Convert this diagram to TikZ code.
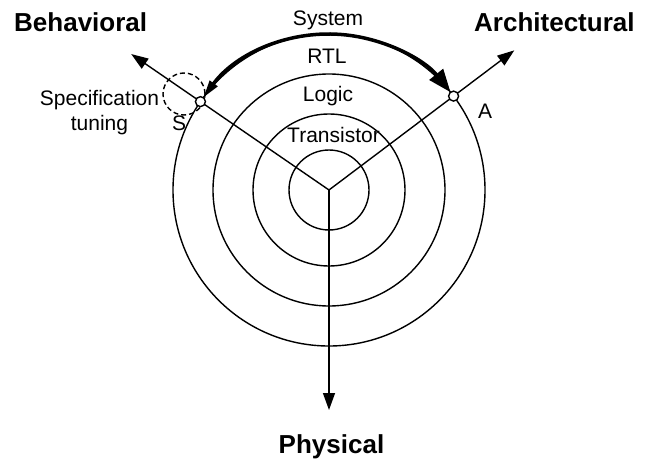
\documentclass[tikz,border=0pt]{standalone}
\usepackage{fontspec}
\setmainfont{Liberation Sans}
\usetikzlibrary{arrows.meta,calc}
\begin{document}
\begin{tikzpicture}[x=1pt,y=1pt,
  ring/.style={line width=1.4pt},
  axis/.style={line width=1.4pt,-{Triangle[length=17pt,width=12pt]}},
  lbl/.style={font=\fontsize{21}{25}\selectfont,inner sep=0pt,anchor=base},
  biglbl/.style={font=\fontsize{26}{30}\selectfont\bfseries,inner sep=0pt,anchor=base},
  dot/.style={circle,draw,fill=white,line width=1.4pt,minimum size=10pt,inner sep=0pt}]
\useasboundingbox (0,0) rectangle (651,459);
\coordinate (C) at (329,269);
% rings
\draw[ring] (C) circle[radius=40];
\draw[ring] (C) circle[radius=76];
\draw[ring] (C) circle[radius=116];
\draw[ring] (C) circle[radius=156];
% axes
\coordinate (btip) at ($(C)+(145.5:240)$);
\coordinate (atip) at ($(C)+(37:232)$);
\coordinate (ptip) at (329,49);
\draw[axis] (C) -- (btip);
\draw[axis] (C) -- (atip);
\draw[axis] (C) -- (ptip);
% dashed circle
\draw[line width=1.4pt,dash pattern=on 5pt off 3pt] (184,365) circle[radius=21];
% thick arc
\draw[line width=3.5pt,{Triangle[length=18pt,width=9pt]}-{Triangle[length=23pt,width=17pt]}]
  ($(C)+(143.8:156)$) arc[start angle=143.8,end angle=38.8,radius=156];
% points
\node[dot] (S) at ($(C)+(145.5:156)$) {};
\node[dot] (A) at ($(C)+(37:156)$) {};
% labels
\node[lbl] (sys) at (328,433) {System};
\node[lbl] (rtl) at (327,395) {RTL};
\node[lbl] (logic) at (328,357) {Logic};
\node[lbl] (tr) at (333.5,317) {Transistor};
\node[lbl,anchor=base west] (alab) at (478,341) {A};
\node[lbl,anchor=base west] (slab) at (172,328) {S};
\node[lbl] (spec1) at (99.5,353) {Specification};
\node[lbl] (spec2) at (99.5,328) {tuning};
\node[biglbl,anchor=base west] (beh) at (14,427) {Behavioral};
\node[biglbl,anchor=base west] (arch) at (474,427) {Architectural};
\node[biglbl] (phys) at (331.5,6) {Physical};
\end{tikzpicture}
\end{document}
